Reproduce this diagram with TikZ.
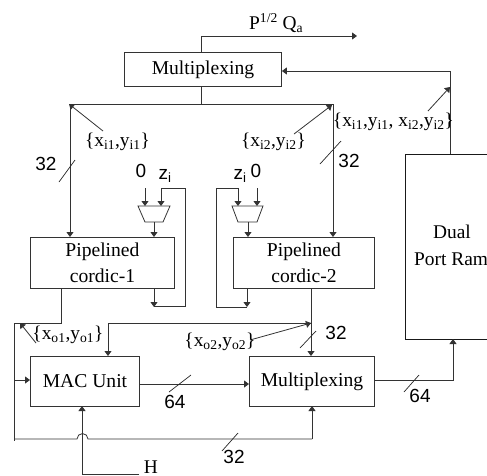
\documentclass[tikz,border=0pt]{standalone}
\usepackage{fontspec}
\setmainfont{Liberation Serif}
\newfontfamily\hv{Liberation Sans}
\usetikzlibrary{arrows.meta}
\tikzset{
  x=1pt,y=-1pt,
  wire/.style={draw=black!80,line width=0.8pt},
  arr/.style={wire,-{Triangle[length=5pt,width=7pt]}},
  tick/.style={draw=black!85,line width=0.7pt},
  blockbox/.style={draw=black!80,line width=0.9pt,inner sep=0pt,align=center,font=\fontsize{19.6}{26.5}\selectfont},
  lab/.style={inner sep=0pt,font=\fontsize{19.4}{22}\selectfont},
  num/.style={inner sep=0pt,font=\hv\fontsize{19}{22}\selectfont},
  muxshape/.style={draw=black!80,line width=0.8pt}
}
\begin{document}
\begin{tikzpicture}
\useasboundingbox (0,0) rectangle (487,475);
% blocks
\node[blockbox,anchor=north west,minimum width=157pt,minimum height=34pt] (muxtop) at (124,52) {Multiplexing};
\node[blockbox,anchor=north west,minimum width=144pt,minimum height=51pt] (cor1) at (30,237) {Pipelined\\cordic-1};
\node[blockbox,anchor=north west,minimum width=141pt,minimum height=51pt] (cor2) at (233,237) {Pipelined\\cordic-2};
\node[blockbox,anchor=north west,minimum width=109pt,minimum height=50pt] (mac) at (30,356) {MAC Unit};
\node[blockbox,anchor=north west,minimum width=125pt,minimum height=50pt] (muxlow) at (249,356) {Multiplexing};
\draw[wire,draw=black!90] (487,154) -- (405,154) -- (405,339) -- (487,339);
\node[lab] (dual) at (452,232) {Dual};
\node[lab,anchor=west] (port) at (414,259) {Port Ram};
% small muxes
\draw[muxshape] (138,206) -- (170,206) -- (163,222) -- (145,222) -- cycle;
\draw[muxshape] (232,206) -- (263,206) -- (257,222) -- (238,222) -- cycle;
\coordinate (m1b) at (154,222);
\coordinate (m2b) at (248,222);
% top output
\coordinate (pout) at (357,36);
\draw[arr] (muxtop.north) ++(-1.5,0) |- (pout);
\node[lab,anchor=west] (pq) at (249,23) {P\textsuperscript{1/2} Q\textsubscript{a}};
% feedback from RAM
\draw[arr] (450,154) |- (muxtop.east |- 0,71);
\draw[arr] (428,111) -- (450,87);
\node[lab] (lall) at (393.5,122) {\{x\textsubscript{i1},y\textsubscript{i1}, x\textsubscript{i2},y\textsubscript{i2}\}};
% bus
\draw[wire] (201,86) -- (201,104);
\draw[wire,line width=1pt] (70,104) -- (333,104);
\draw[arr] (70,104) -- (70,237);
\draw[arr] (333,104) -- (333,237);
\draw[arr] (103,131) -- (69,104);
\draw[arr] (294,134) -- (332,105);
\node[lab] (li1) at (117.5,142) {\{x\textsubscript{i1},y\textsubscript{i1}\}};
\node[lab] (li2) at (273.5,142) {\{x\textsubscript{i2},y\textsubscript{i2}\}};
\draw[tick] (59,182) -- (75,160);
\node[num] (n32a) at (46,164) {32};
\draw[tick] (320,164) -- (341,141);
\node[num] (n32b) at (349,161) {32};
% mux inputs
\node[num] (zero1) at (141,171) {0};
\node[num] (z1) at (165,176) {z\textsubscript{i}};
\node[num] (z2) at (240,176) {z\textsubscript{i}};
\node[num] (zero2) at (256,171) {0};
\draw[arr] (145,188) -- (145,206);
\draw[arr] (154,306) -- (185,306) -- (185,188) -- (161,188) -- (161,206);
\draw[arr] (154,288) -- (154,307);
\draw[arr] (m1b) -- (154,237);
\draw[arr] (257,188) -- (257,206);
\draw[arr] (247,307) -- (216,307) -- (216,188) -- (238,188) -- (238,206);
\draw[arr] (247,288) -- (247,307);
\draw[arr] (m2b) -- (248,237);
% cordic 1 output
\draw[wire] (61,288) |- (14,323) -- (14,441);
\draw[arr] (14,380) -- (mac.west |- 0,380);
\draw[wire] (14,439) -- (77,439) arc[start angle=180,end angle=360,radius=5.5] -- (312,439);
\draw[arr] (312,439) -- (312,406);
\draw[arr] (36,343) -- (20,323);
\node[lab] (lo1) at (68,335) {\{x\textsubscript{o1},y\textsubscript{o1}\}};
% cordic 2 output
\draw[arr] (311,288) -- (311,356);
\draw[arr] (311,323) -| (108,356);
\draw[arr] (250,340) -- (311,323);
\node[lab] (lo2) at (220,342) {\{x\textsubscript{o2},y\textsubscript{o2}\}};
\draw[tick] (300,348) -- (316,331);
\node[num] (n32c) at (336,333) {32};
% MAC to mux
\draw[arr] (139,384) -- (249,384);
\draw[tick] (169,392) -- (191,375);
\node[num] (n64a) at (175,402) {64};
% mux to RAM
\draw[arr] (374,380) -| (453,339);
\draw[tick] (404,392) -- (419,375);
\node[num] (n64b) at (420,396) {64};
% bottom
\draw[tick] (222,451) -- (238,433);
\node[num] (n32d) at (234,457) {32};
\draw[arr] (139,474) -| (82,406);
\node[lab] (h) at (151,467) {H};
\end{tikzpicture}
\end{document}
